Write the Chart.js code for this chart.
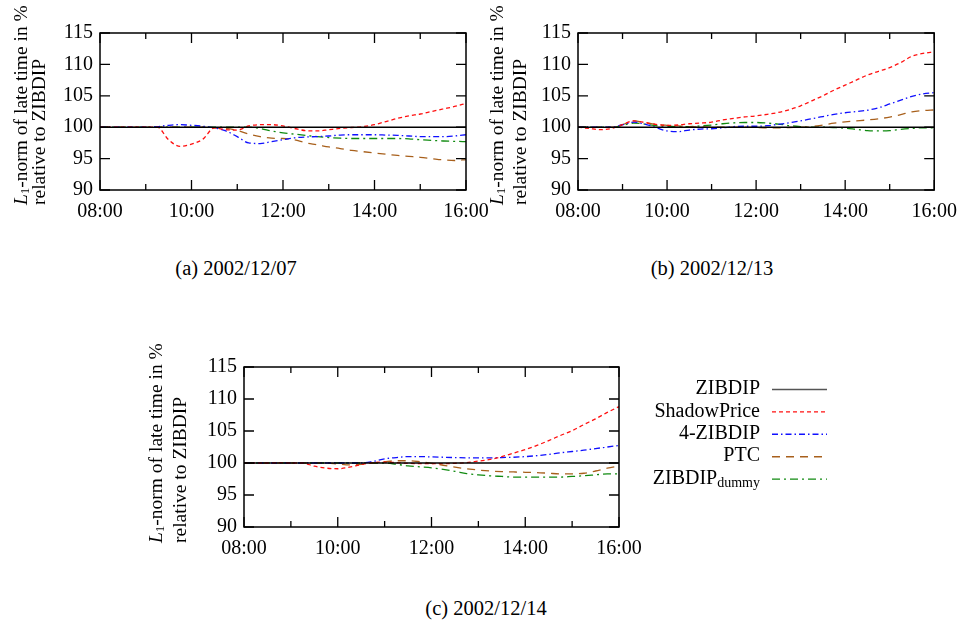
<!DOCTYPE html>
<html>
<head>
<meta charset="utf-8">
<script src="https://cdn.jsdelivr.net/npm/chart.js@4.4.1/dist/chart.umd.min.js"></script>
<style>
  html, body { margin: 0; padding: 0; background: #fff; }
  body { width: 967px; height: 623px; position: relative; overflow: hidden; font-family: 'Liberation Serif', serif; }
  canvas { position: absolute; }
  .cap { position: absolute; width: 240px; text-align: center; font-size: 20.5px; line-height: 22px; color: #000; }
</style>
</head>
<body>
<canvas id="ca" width="500" height="235" style="left:0px;top:0px"></canvas>
<canvas id="cb" width="487" height="235" style="left:480px;top:0px"></canvas>
<canvas id="cc" width="720" height="260" style="left:140px;top:330px"></canvas>
<div class="cap" style="left:116px;top:257px">(a) 2002/12/07</div>
<div class="cap" style="left:592px;top:257px">(b) 2002/12/13</div>
<div class="cap" style="left:366px;top:597px">(c) 2002/12/14</div>
<script>
// ---------- data ----------
const hours = [8,8.25,8.5,8.75,9,9.25,9.5,9.75,10,10.25,10.5,10.75,11,11.25,11.5,11.75,12,12.25,12.5,12.75,13,13.25,13.5,13.75,14,14.25,14.5,14.75,15,15.25,15.5,15.75,16];
const xTickHours = [8,9,10,11,12,13,14,15,16];
const xTickLabels = ['08:00','','10:00','','12:00','','14:00','','16:00'];
const yTicks = [90,95,100,105,110,115];
const seriesNames = ['ZIBDIP','ShadowPrice','4-ZIBDIP','PTC','ZIBDIP_dummy'];
const captions = ['(a) 2002/12/07','(b) 2002/12/13','(c) 2002/12/14'];

const zibdip = [100,100,100,100,100,100,100,100,100,100,100,100,100,100,100,100,100,100,100,100,100,100,100,100,100,100,100,100,100,100,100,100,100];

const aShadow = [100,100,100,100,100,100,98.0,96.95,97.3,98.1,99.9,99.6,99.55,100.2,100.4,100.4,100.2,99.8,99.45,99.4,99.6,99.8,99.95,100.1,100.4,100.9,101.4,101.8,102.1,102.5,102.9,103.3,103.8];
const aFour   = [100,100,100,100,100,100.1,100.3,100.4,100.3,100.15,99.9,99.4,98.5,97.5,97.4,97.7,98.0,98.3,98.45,98.5,98.6,98.75,98.8,98.8,98.8,98.75,98.7,98.6,98.5,98.5,98.5,98.6,98.8];
const aPTC    = [100,100,100,100,100,100,100,100,100,100,99.9,99.8,99.5,98.9,98.5,98.25,98.2,98.0,97.5,97.2,96.85,96.6,96.3,96.1,95.9,95.7,95.5,95.35,95.2,95.0,94.8,94.7,94.85];
const aDummy  = [100,100,100,100,100,100,100,100,100,100,100,100,100,100,99.8,99.4,99.1,98.9,98.7,98.5,98.35,98.25,98.2,98.2,98.2,98.2,98.2,98.15,98.0,97.9,97.8,97.75,97.7];

const bShadow = [100,99.8,99.6,99.8,100.4,101.0,100.75,100.45,100.3,100.35,100.55,100.65,100.8,101.15,101.4,101.65,101.8,102.05,102.35,102.8,103.4,104.2,105.0,105.9,106.7,107.5,108.3,108.9,109.5,110.3,111.3,111.75,112.0];
const bFour   = [100,100,100,100,100.4,100.8,100.5,99.95,99.4,99.3,99.55,99.7,99.75,99.9,100.1,100.15,100.15,100.25,100.45,100.7,101.0,101.35,101.7,102.05,102.3,102.5,102.7,103.1,103.7,104.3,104.9,105.3,105.5];
const bPTC    = [100,100,100,100,100.4,101.0,100.75,100.45,100.3,100.2,100.1,100.05,100,100,100,100,99.95,99.9,99.9,99.95,100,100.1,100.35,100.65,100.85,101.0,101.15,101.35,101.6,102.0,102.45,102.65,102.75];
const bDummy  = [100,100,100,100,100.3,100.65,100.5,100.25,100.15,100.1,100.1,100.2,100.35,100.55,100.7,100.75,100.75,100.65,100.5,100.25,100.1,100.0,100.0,99.95,99.85,99.65,99.45,99.4,99.45,99.65,99.8,99.9,99.9];

const cShadow = [100,100,100,100.05,100,100,99.5,99.2,99.1,99.35,99.75,100.05,100.15,100.05,99.95,99.9,99.9,99.9,99.95,100.05,100.3,100.55,101.0,101.55,102.1,102.75,103.5,104.3,105.05,106.0,106.9,107.9,108.8];
const cFour   = [100,100,100,100,100,100,100,100,100,100,100,100.25,100.65,100.85,101.0,101.0,100.95,100.9,100.85,100.8,100.8,100.8,100.85,100.9,101.0,101.15,101.35,101.6,101.8,102.0,102.25,102.5,102.75];
const cPTC    = [100,100,100,100,100,100,100,100,99.85,99.7,99.8,100.0,100.2,100.35,100.35,100.2,99.95,99.65,99.35,99.1,98.9,98.75,98.65,98.6,98.55,98.5,98.4,98.3,98.3,98.4,98.75,99.2,99.5];
const cDummy  = [100,100,100,100,100,100,100,100,100,100,100,100,100,99.8,99.55,99.4,99.25,99.0,98.7,98.35,98.15,98.0,97.9,97.8,97.8,97.8,97.8,97.8,97.9,98.0,98.15,98.3,98.3];

// ---------- styles ----------
const FONT = "'Liberation Serif', 'Times New Roman', serif";
const FS = 20;
const lineStyles = [
  { color: '#000000', dash: [],            width: 1.4, legendColor: '#555555' },
  { color: '#ff1010', dash: [4, 3],        width: 1.3, legendColor: '#ff1010' },
  { color: '#1010ff', dash: [6, 3, 1.5, 3],width: 1.3, legendColor: '#1010ff' },
  { color: '#a8601c', dash: [8, 6],        width: 1.3, legendColor: '#a8601c' },
  { color: '#108a10', dash: [8, 4, 2, 4],  width: 1.3, legendColor: '#108a10' }
];

function makeDatasets(arrs) {
  return arrs.map((arr, k) => ({
    label: seriesNames[k],
    data: hours.map((h, i) => ({ x: h, y: arr[i] })),
    borderColor: lineStyles[k].color,
    borderDash: lineStyles[k].dash,
    borderWidth: lineStyles[k].width,
    pointRadius: 0,
    fill: false,
    cubicInterpolationMode: 'monotone'
  }));
}

// frame + inward tick marks
const framePlugin = {
  id: 'frame',
  afterDatasetsDraw(chart) {
    const { ctx, chartArea: a, scales: { x, y } } = chart;
    ctx.save();
    ctx.strokeStyle = '#000';
    ctx.lineWidth = 1.3;
    ctx.beginPath();
    xTickHours.forEach((h, i) => {
      const px = x.getPixelForValue(h);
      const len = xTickLabels[i] ? 10 : 6;
      ctx.moveTo(px, a.bottom); ctx.lineTo(px, a.bottom - len);
      ctx.moveTo(px, a.top); ctx.lineTo(px, a.top + len);
    });
    yTicks.forEach(v => {
      const py = y.getPixelForValue(v);
      ctx.moveTo(a.left, py); ctx.lineTo(a.left + 10, py);
      ctx.moveTo(a.right, py); ctx.lineTo(a.right - 10, py);
    });
    ctx.stroke();
    ctx.lineWidth = 1.5;
    ctx.strokeRect(a.left, a.top, a.right - a.left, a.bottom - a.top);
    ctx.restore();
  }
};

// rotated two-line y title
const yTitlePlugin = {
  id: 'ytitle',
  afterDraw(chart, args, opts) {
    const ctx = chart.ctx;
    ctx.save();
    ctx.fillStyle = '#000';
    ctx.textBaseline = 'middle';
    ctx.textAlign = 'left';
    ctx.save();
    ctx.translate(opts.x1, opts.bottom);
    ctx.rotate(-Math.PI / 2);
    ctx.font = 'italic 19.5px ' + FONT;
    ctx.fillText('L', 0, 0);
    let w = ctx.measureText('L').width;
    ctx.font = '13px ' + FONT;
    ctx.fillText('1', w, 4);
    w += ctx.measureText('1').width;
    ctx.font = '19.5px ' + FONT;
    ctx.fillText('-norm of late time in %', w, 0);
    ctx.restore();
    ctx.save();
    ctx.translate(opts.x2, opts.bottom);
    ctx.rotate(-Math.PI / 2);
    ctx.font = '19.5px ' + FONT;
    ctx.fillText('relative to ZIBDIP', 0, 0);
    ctx.restore();
    ctx.restore();
  }
};

// legend drawn from dataset styles
const legendPlugin = {
  id: 'sideLegend',
  afterDraw(chart, args, opts) {
    if (!opts.show) return;
    const ctx = chart.ctx;
    ctx.save();
    chart.data.datasets.forEach((ds, k) => {
      const yy = opts.y0 + k * opts.dy;
      ctx.fillStyle = '#000';
      ctx.textBaseline = 'middle';
      ctx.textAlign = 'right';
      if (ds.label === 'ZIBDIP_dummy') {
        ctx.font = '14px ' + FONT;
        const sw = ctx.measureText('dummy').width;
        ctx.fillText('dummy', opts.textRight, yy + 5);
        ctx.font = FS + 'px ' + FONT;
        ctx.fillText('ZIBDIP', opts.textRight - sw, yy);
      } else {
        ctx.font = FS + 'px ' + FONT;
        ctx.fillText(ds.label, opts.textRight, yy);
      }
      ctx.strokeStyle = lineStyles[k].legendColor;
      ctx.lineWidth = 1.4;
      ctx.setLineDash(ds.borderDash || []);
      ctx.beginPath();
      ctx.moveTo(opts.lineX0, yy + 0.5);
      ctx.lineTo(opts.lineX1, yy + 0.5);
      ctx.stroke();
      ctx.setLineDash([]);
    });
    ctx.restore();
  }
};

function makeChart(id, arrs, geo) {
  return new Chart(document.getElementById(id), {
    type: 'line',
    data: { datasets: makeDatasets(arrs) },
    options: {
      responsive: false,
      animation: false,
      events: [],
      layout: { padding: { left: 0, top: geo.top, right: geo.right, bottom: 0 } },
      scales: {
        x: {
          type: 'linear', min: 8, max: 16,
          afterBuildTicks: s => { s.ticks = xTickHours.map(v => ({ value: v })); },
          afterFit: s => { s.height = geo.xh; },
          grid: { display: false, drawTicks: false },
          border: { display: false },
          ticks: {
            autoSkip: false, maxRotation: 0, padding: geo.xpad,
            color: '#000', font: { family: FONT, size: FS },
            callback: (v, i) => xTickLabels[i]
          }
        },
        y: {
          type: 'linear', min: 90, max: 115,
          afterBuildTicks: s => { s.ticks = yTicks.map(v => ({ value: v })); },
          afterFit: s => { s.width = geo.yw; },
          grid: { display: false, drawTicks: false },
          border: { display: false },
          ticks: {
            padding: 7, color: '#000', font: { family: FONT, size: FS },
            callback: v => String(v)
          }
        }
      },
      plugins: {
        legend: { display: false },
        tooltip: { enabled: false },
        ytitle: { x1: geo.t1, x2: geo.t2, bottom: geo.tb },
        sideLegend: geo.legend || { show: false }
      }
    },
    plugins: [framePlugin, yTitlePlugin, legendPlugin]
  });
}

makeChart('ca', [zibdip, aShadow, aFour, aPTC, aDummy],
  { top: 33, right: 34, yw: 100, xh: 45, xpad: 10, t1: 22, t2: 40, tb: 205 });
makeChart('cb', [zibdip, bShadow, bFour, bPTC, bDummy],
  { top: 33, right: 22, yw: 98, xh: 45, xpad: 10, t1: 18, t2: 41, tb: 205 });
makeChart('cc', [zibdip, cShadow, cFour, cPTC, cDummy],
  { top: 37, right: 241, yw: 104, xh: 63, xpad: 10, t1: 17, t2: 41, tb: 213,
    legend: { show: true, textRight: 620, lineX0: 632, lineX1: 687, y0: 59, dy: 22.4 } });
</script>
</body>
</html>
